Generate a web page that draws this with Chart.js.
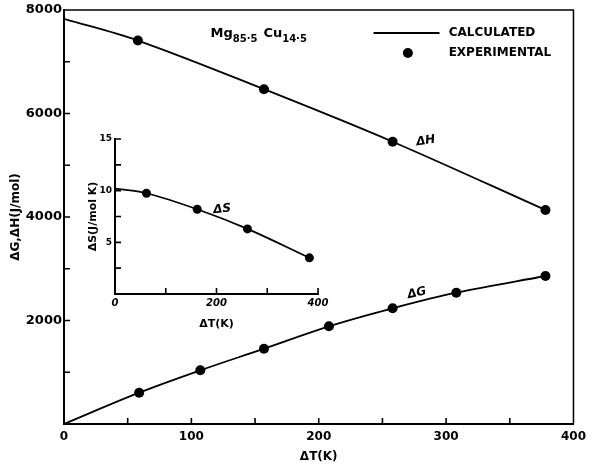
<!DOCTYPE html>
<html>

<head>
    <style>
        body {
            margin: 0;
            background: #fff;
        }

        #wrap {
            position: relative;
            width: 592px;
            height: 470px;
        }

        #wrap canvas {
            position: absolute;
            left: 0;
            top: 0;
        }
    </style>
</head>

<body>
    <div id="wrap">
        <canvas id="mainChart" width="592" height="470"></canvas>
        <canvas id="insetChart" width="592" height="470"></canvas>
    </div>

    <script src="https://cdn.jsdelivr.net/npm/chart.js@4.4.1/dist/chart.umd.min.js"></script>
    <script>
        // values
        const dtExpH = [58, 157, 258, 378];
        const dhExp = [7410, 6470, 5455, 4135];
        const dtCalcH = [0, 58, 157, 258, 378];
        const dhCalc = [7830, 7410, 6470, 5455, 4135];

        const dtExpG = [59, 107, 157, 208, 258, 308, 378];
        const dgExp = [605, 1037, 1455, 1888, 2236, 2537, 2860];
        const dtCalcG = [0, 59, 107, 157, 208, 258, 308, 378];
        const dgCalc = [0, 605, 1037, 1455, 1888, 2236, 2537, 2860];

        const dtExpS = [62, 162, 261, 383];
        const dsExp = [9.75, 8.2, 6.3, 3.5];
        const dtCalcS = [0, 62, 162, 261, 383];
        const dsCalc = [10.2, 9.75, 8.2, 6.3, 3.5];

        const mainXLabels = [0, 100, 200, 300, 400];
        const mainYLabels = [2000, 4000, 6000, 8000];
        const mainXMarks = [50, 100, 150, 200, 250, 300, 350];
        const mainYMarks = [1000, 2000, 3000, 4000, 5000, 6000, 7000];

        const insetXLabels = [0, 200, 400];
        const insetYLabels = [5, 10, 15];
        const insetXMarks = [100, 200, 300, 400];
        const insetYMarks = [2.5, 5, 7.5, 10, 12.5, 15];

        const FONT = '"DejaVu Sans", sans-serif';

        function toPoints(xs, ys) {
            return xs.map((x, i) => ({ x: x, y: ys[i] }));
        }

        function curve(xs, ys) {
            return {
                data: toPoints(xs, ys),
                showLine: true,
                borderColor: '#000',
                borderWidth: 1.8,
                pointRadius: 0,
                tension: 0.35
            };
        }

        function dots(xs, ys, r) {
            return {
                data: toPoints(xs, ys),
                showLine: false,
                pointRadius: r,
                pointBackgroundColor: '#000',
                pointBorderWidth: 0
            };
        }

        // inward tick marks, and optionally a closed frame
        function tickMarks(xMarks, yMarks, box) {
            return {
                id: 'tickMarks',
                afterDraw(chart) {
                    const ctx = chart.ctx;
                    const { x, y } = chart.scales;
                    const area = chart.chartArea;
                    ctx.save();
                    ctx.strokeStyle = '#000';
                    ctx.lineWidth = 1.6;
                    ctx.beginPath();
                    xMarks.forEach(v => {
                        const px = x.getPixelForValue(v);
                        ctx.moveTo(px, area.bottom);
                        ctx.lineTo(px, area.bottom - 6);
                    });
                    yMarks.forEach(v => {
                        const py = y.getPixelForValue(v);
                        ctx.moveTo(area.left, py);
                        ctx.lineTo(area.left + 6, py);
                    });
                    ctx.stroke();
                    if (box) {
                        ctx.lineWidth = 1.5;
                        ctx.beginPath();
                        ctx.moveTo(area.left, area.top);
                        ctx.lineTo(area.right, area.top);
                        ctx.lineTo(area.right, area.bottom);
                        ctx.stroke();
                    }
                    ctx.restore();
                }
            };
        }

        // texts placed at data positions
        function notes(items) {
            return {
                id: 'notes',
                afterDatasetsDraw(chart) {
                    const ctx = chart.ctx;
                    const { x, y } = chart.scales;
                    items.forEach(item => {
                        ctx.save();
                        ctx.translate(x.getPixelForValue(item.at[0]), y.getPixelForValue(item.at[1]));
                        ctx.rotate(item.rotate || 0);
                        ctx.fillStyle = '#000';
                        ctx.strokeStyle = '#000';
                        if (item.kind === 'line') {
                            ctx.lineWidth = 1.8;
                            ctx.beginPath();
                            ctx.moveTo(0, 0);
                            ctx.lineTo(item.len, 0);
                            ctx.stroke();
                        } else if (item.kind === 'dot') {
                            ctx.beginPath();
                            ctx.arc(0, 0, 5, 0, Math.PI * 2);
                            ctx.fill();
                        } else {
                            ctx.textBaseline = item.baseline || 'middle';
                            ctx.textAlign = item.align || 'left';
                            let cx = 0;
                            item.parts.forEach(p => {
                                ctx.font = p.font;
                                ctx.fillText(p.t, cx, p.dy || 0);
                                cx += ctx.measureText(p.t).width + (p.gap || 0);
                            });
                        }
                        ctx.restore();
                    });
                }
            };
        }

        function axis(min, max, labels, labelFont, pad, fixedSize, title) {
            return {
                type: 'linear',
                min: min,
                max: max,
                grid: { display: false, drawTicks: false },
                border: { display: true, color: '#000', width: 2 },
                afterBuildTicks: s => { s.ticks = labels.map(v => ({ value: v })); },
                afterFit: s => {
                    if (s.isHorizontal()) s.height = fixedSize; else s.width = fixedSize;
                },
                ticks: {
                    color: '#000',
                    font: labelFont,
                    padding: pad,
                    maxRotation: 0,
                    autoSkip: false,
                    callback: v => String(v)
                },
                title: title
            };
        }

        const bold = (size, style) => ({ family: FONT, size: size, weight: 'bold', style: style || 'normal' });

        new Chart(document.getElementById('mainChart'), {
            type: 'scatter',
            data: {
                datasets: [
                    curve(dtCalcH, dhCalc),
                    dots(dtExpH, dhExp, 5),
                    curve(dtCalcG, dgCalc),
                    dots(dtExpG, dgExp, 5)
                ]
            },
            options: {
                responsive: false,
                animation: false,
                devicePixelRatio: 1,
                layout: { padding: { left: 0, right: 14, top: 10, bottom: 0 } },
                plugins: { legend: { display: false }, tooltip: { enabled: false } },
                scales: {
                    x: axis(0, 400, mainXLabels, bold(12), 6, 46, {
                        display: true, text: 'ΔT(K)', color: '#000', font: bold(12),
                        padding: { top: 0, bottom: 6 }
                    }),
                    y: axis(0, 8000, mainYLabels, bold(13), 2, 64, {
                        display: true, text: 'ΔG,ΔH(J/mol)', color: '#000', font: bold(12),
                        padding: { top: 9, bottom: 0 }
                    })
                }
            },
            plugins: [
                tickMarks(mainXMarks, mainYMarks, true),
                notes([
                    {
                        at: [115, 7480], baseline: 'alphabetic', parts: [
                            { t: 'Mg', font: 'bold 13px ' + FONT },
                            { t: '85·5', font: 'bold 10px ' + FONT, dy: 5, gap: 6 },
                            { t: 'Cu', font: 'bold 13px ' + FONT },
                            { t: '14·5', font: 'bold 10px ' + FONT, dy: 5 }
                        ]
                    },
                    { kind: 'line', at: [243, 7556], len: 66 },
                    { at: [302, 7556], parts: [{ t: 'CALCULATED', font: 'bold 12px ' + FONT }] },
                    { kind: 'dot', at: [270, 7169] },
                    { at: [302, 7169], parts: [{ t: 'EXPERIMENTAL', font: 'bold 12px ' + FONT }] },
                    { at: [284, 5470], align: 'center', rotate: -0.15, parts: [{ t: 'ΔH', font: 'italic bold 12px ' + FONT }] },
                    { at: [277, 2530], align: 'center', rotate: -0.22, parts: [{ t: 'ΔG', font: 'italic bold 12px ' + FONT }] }
                ])
            ]
        });

        new Chart(document.getElementById('insetChart'), {
            type: 'scatter',
            data: {
                datasets: [
                    curve(dtCalcS, dsCalc),
                    dots(dtExpS, dsExp, 4.5)
                ]
            },
            options: {
                responsive: false,
                animation: false,
                devicePixelRatio: 1,
                layout: { padding: { left: 85, right: 274, top: 139, bottom: 139 } },
                plugins: { legend: { display: false }, tooltip: { enabled: false } },
                scales: {
                    x: axis(0, 400, insetXLabels, bold(10, 'italic'), 3, 37, {
                        display: true, text: 'ΔT(K)', color: '#000', font: bold(11),
                        padding: { top: 0, bottom: 0 }
                    }),
                    y: axis(0, 15, insetYLabels, bold(9), 3, 30, {
                        display: true, text: 'ΔS(J/mol K)', color: '#000', font: bold(11),
                        padding: { top: 2, bottom: 0 }
                    })
                }
            },
            plugins: [
                tickMarks(insetXMarks, insetYMarks, false),
                notes([
                    { at: [211, 8.2], align: 'center', rotate: -0.1, parts: [{ t: 'ΔS', font: 'italic bold 12px ' + FONT }] }
                ])
            ]
        });
    </script>
</body>

</html>
